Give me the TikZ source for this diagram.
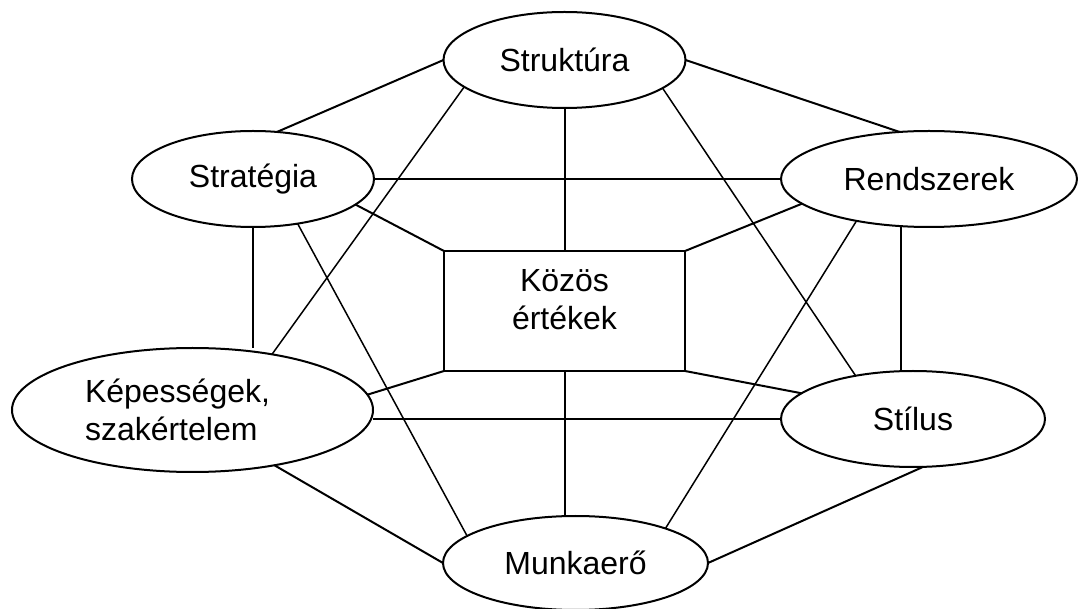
\documentclass[tikz,border=0pt]{standalone}
\usepackage{fontspec}
\setmainfont{Liberation Sans}
\usetikzlibrary{shapes.geometric}

\begin{document}
\begin{tikzpicture}[x=0.5pt, y=-0.5pt,
		elem/.style={ellipse, draw, line width=1pt, inner sep=0pt, outer sep=0pt, font=\fontsize{16}{19}\selectfont},
		kozep/.style={rectangle, draw, line width=1pt, inner sep=0pt, outer sep=0pt, align=center, font=\fontsize{16}{19}\selectfont},
		kapcs/.style={line width=1pt},
		atlo/.style={line width=0.75pt}]
		\useasboundingbox (0,0) rectangle (1078,609);

		% Ellipszisek
		\node[elem, minimum width=121pt, minimum height=48pt] (struk) at (564.5,60) {Struktúra};
		\node[elem, minimum width=121pt, minimum height=48pt] (strat) at (253,179) {Stratégia};
		\node[elem, minimum width=148pt, minimum height=48pt] (rend) at (929,179) {Rendszerek};
		\node[elem, minimum width=180.5pt, minimum height=62pt, align=left, text width=107.5pt] (kepes) at (192.5,410) {Képességek,\\szakértelem};
		\node[elem, minimum width=132pt, minimum height=48pt] (stil) at (913,419) {Stílus};
		\node[elem, minimum width=132.5pt, minimum height=47pt] (munka) at (575.5,563) {Munkaerő};

		% Középső téglalap
		\node[kozep, minimum width=120.5pt, minimum height=60pt, text depth=11.5pt] (kozos) at (564.5,311) {Közös\\értékek};

		% Külső kapcsolatok
		\draw[kapcs] (strat.63) -- (struk.west);
		\draw[kapcs] (struk.east) -- (rend.122);
		\draw[kapcs] (strat.east) -- (rend.west);
		\draw[kapcs] (strat.south) -- (strat.south |- kepes.north);
		\draw[kapcs] (rend.239) -- (rend.239 |- stil.north);
		\draw[kapcs] (kepes.east |- stil.west) -- (stil.west);
		\draw[kapcs] (kepes.326) -- (munka.west);
		\draw[kapcs] (munka.east) -- (stil.282);

		% Kapcsolatok a közös értékekkel
		\draw[kapcs] (struk.south) -- (kozos.north);
		\draw[kapcs] (strat.346) -- (kozos.north west);
		\draw[kapcs] (rend.191) -- (kozos.north east);
		\draw[kapcs] (kepes.5) -- (kozos.south west);
		\draw[kapcs] (stil.167) -- (kozos.south east);
		\draw[kapcs] (kozos.south) -- (kozos.south |- munka.north);

		% Átlós vonalak
		\draw[atlo] (struk.195) -- (kepes.35);
		\draw[atlo] (struk.344) -- (stil.143);
		\draw[atlo] (strat.315) -- (munka.166);
		\draw[atlo] (rend.210) -- (munka.21);
	\end{tikzpicture}
\end{document}
